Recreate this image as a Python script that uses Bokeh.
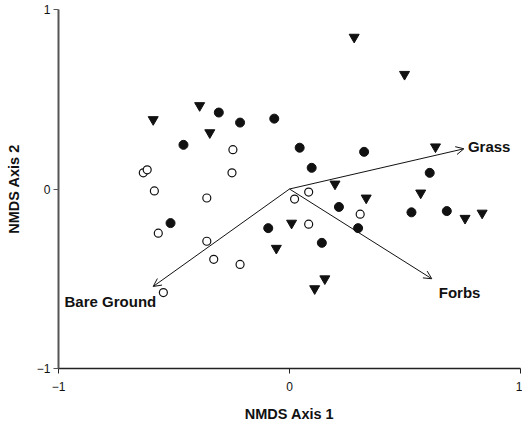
from bokeh.plotting import figure
from bokeh.models import ColumnDataSource, Arrow, OpenHead, FixedTicker, Range1d
from bokeh.core.properties import value
from bokeh.embed import file_html
from bokeh.resources import INLINE

# ---- data ----
tri_x = [0.280, 0.498, -0.590, -0.389, -0.345, 0.632, 0.197, 0.332, 0.568, 0.760, 0.834, 0.009, -0.057, 0.153, 0.109]
tri_y = [0.846, 0.639, 0.387, 0.465, 0.314, 0.235, 0.028, -0.050, -0.022, -0.163, -0.134, -0.190, -0.330, -0.500, -0.555]

dot_x = [-0.306, -0.214, -0.066, -0.459, 0.044, 0.323, 0.096, 0.607, 0.214, 0.528, 0.681, -0.092, 0.140, 0.297, -0.515]
dot_y = [0.426, 0.370, 0.392, 0.246, 0.230, 0.207, 0.118, 0.090, -0.100, -0.130, -0.123, -0.218, -0.300, -0.218, -0.190]

open_x = [-0.633, -0.616, -0.245, -0.249, -0.585, -0.358, -0.568, -0.358, -0.328, -0.214, -0.546, 0.083, 0.022, 0.083, 0.306]
open_y = [0.090, 0.107, 0.219, 0.090, -0.011, -0.050, -0.246, -0.291, -0.392, -0.420, -0.577, -0.017, -0.056, -0.196, -0.140]

veg_names = ["Grass", "Forbs", "Bare Ground"]
veg_x = [0.755, 0.616, -0.590]
veg_y = [0.224, -0.500, -0.543]

ticks = [-1, 0, 1]

FONT = "Liberation Sans"
INK = "#111111"

p = figure(width=522, height=424, output_backend="svg", toolbar_location=None,
           x_range=Range1d(-1, 1), y_range=Range1d(-1, 1),
           min_border_left=58, min_border_right=2, min_border_top=9, min_border_bottom=53)
p.outline_line_color = None
p.grid.visible = False
p.background_fill_color = "white"

for ax in (p.xaxis[0], p.yaxis[0]):
    ax.ticker = FixedTicker(ticks=ticks)
    ax.minor_tick_line_color = None
    ax.major_tick_in = 0
    ax.major_tick_out = 5
    ax.major_label_text_font = FONT
    ax.major_label_text_font_size = "12px"
    ax.major_label_text_color = INK
    ax.axis_label_text_font = FONT
    ax.axis_label_text_font_style = "bold"
    ax.axis_label_text_font_size = "14.5px"
    ax.axis_label_text_color = INK
    ax.axis_label_standoff = 12

p.xaxis.axis_label = "NMDS Axis 1"
p.yaxis.axis_label = "NMDS Axis 2"
p.xaxis.axis_line_color = "#222222"
p.xaxis.axis_line_width = 1.3
p.xaxis.major_tick_line_color = "#222222"
p.yaxis.axis_line_color = "#555555"
p.yaxis.axis_line_width = 2
p.yaxis.major_tick_line_color = "#555555"
p.xaxis.major_label_standoff = 8
p.yaxis.major_label_standoff = 3

# vectors
vsrc = ColumnDataSource(dict(x0=[0] * len(veg_x), y0=[0] * len(veg_y), x1=veg_x, y1=veg_y, name=veg_names))
p.add_layout(Arrow(source=vsrc, x_start="x0", y_start="y0", x_end="x1", y_end="y1",
                   line_color=INK, line_width=1,
                   end=OpenHead(size=8, line_color=INK, line_width=1)))

# points
p.scatter(open_x, open_y, marker="circle", size=8, fill_color="white", line_color=INK, line_width=1.2)
p.scatter(dot_x, dot_y, marker="circle", size=9, fill_color=INK, line_color=INK)
p.scatter(tri_x, tri_y, marker="inverted_triangle", size=10, fill_color=INK, line_color=INK)

# vector labels
offx = [4, 7, 3]
offy = [-2, 14, 15]
align = ["left", "left", "right"]
lsrc = ColumnDataSource(dict(x=veg_x, y=veg_y, t=veg_names, ox=offx, oy=offy, al=align))
p.text(x="x", y="y", text="t", source=lsrc, x_offset="ox", y_offset="oy",
       text_align="al", text_baseline="middle", text_font=value(FONT),
       text_font_style="bold", text_font_size="15px", text_color=INK)

open("out.html", "w").write(file_html(p, INLINE))
